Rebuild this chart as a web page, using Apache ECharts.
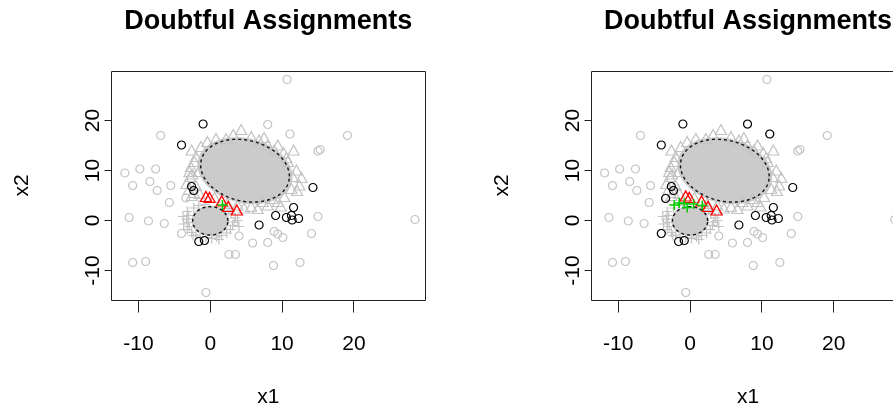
<!DOCTYPE html>
<html><head><meta charset="utf-8">
<script src="https://cdn.jsdelivr.net/npm/echarts@6/dist/echarts.min.js"></script>
<style>html,body{margin:0;padding:0;background:#fff}#c{width:893px;height:408px}</style>
</head><body><div id="c"></div>
<script>
const titleText = 'Doubtful Assignments';
const xName = 'x1';
const yName = 'x2';
const xTicks = [-10, 0, 10, 20];
const yTicks = [-10, 0, 10, 20];

const greyCircles = [
  [10.7,28.2],[8.0,19.2],[-6.9,17.0],[11.1,17.3],[19.1,17.0],[15.0,13.9],[15.3,14.2],
  [-11.9,9.5],[-9.8,10.3],[-7.6,10.3],[-10.8,7.0],[-8.4,7.8],[-7.4,6.0],[-5.5,7.0],
  [-5.7,3.6],[-3.4,4.5],[-11.3,0.6],[-8.6,-0.1],[-6.4,-0.6],[-4.0,-2.6],[4.0,-3.1],
  [5.9,-4.5],[8.0,-4.4],[8.9,-2.2],[9.4,-2.7],[10.1,-3.4],[14.1,-2.6],[15.0,0.8],
  [28.5,0.2],[2.6,-6.8],[3.5,-6.8],[-10.8,-8.4],[-9.0,-8.2],[8.8,-9.0],[12.5,-8.4],[-0.6,-14.4]
];
const greyTriangles = [
  [4.3,18.2],[0.8,16.4],[6.8,16.1],[8.0,15.1],[8.9,14.1],[-2.6,14.1],[11.6,14.1],[10.6,12.6],
  [12.0,10.1],[12.7,8.6],[12.4,7.1],[-2.7,10.8],[-2.9,9.8],[-2.8,8.8],[-3.3,7.4],[10.3,4.8],
  [8.0,3.1],[5.7,2.8],[6.6,2.4],[9.4,3.8],[-1.3,14.8],[-0.4,15.8],[2.2,16.4],[-2.0,12.8],
  [5.7,16.8],[9.4,15.1],[10.8,11.8],[11.5,8.8],[11.3,6.4],[2.4,3.4],[3.8,3.1],[7.3,3.8],
  [-2.2,11.8],[-2.5,9.3],[-3.0,6.2],[-2.0,7.0],[-2.3,5.6],[12.1,6.0],[8.7,4.4],[4.7,2.5],
  [9.8,2.9],[0.6,4.6],[-1.6,9.8],[10.2,13.6],[3.2,17.2],[7.5,16.6],[-1.5,5.4],[-2.6,5.0]
];
const greyPlus = [
  [-3.2,1.8],[-3.0,1.0],[-3.3,0.3],[-3.1,-0.4],[-2.9,-1.2],[-3.2,-1.8],[-2.6,-2.4],[-2.0,-2.9],
  [-1.4,-3.3],[-0.6,-3.4],[0.2,-3.6],[0.9,-3.3],[1.6,-3.0],[2.3,-2.5],[2.8,-1.8],[3.1,-1.0],
  [3.3,-0.3],[3.5,0.5],[2.9,1.4],[2.6,2.0],[1.9,2.5],[-2.3,2.5],[-1.6,3.0],[-0.7,3.2],
  [-3.8,0.8],[-3.7,-0.7],[4.0,-1.2],[3.8,0.0],[-2.4,-3.0],[1.2,-3.8]
];
const blackLeft = [
  [-1.0,19.3],[-4.0,15.1],[-2.6,6.8],[-2.3,6.0],[14.3,6.6],[11.6,2.6],[9.1,1.0],
  [10.6,0.6],[11.3,1.0],[11.4,0.1],[12.3,0.4],[6.8,-0.9],[-1.6,-4.2],[-0.8,-4.0]
];
const blackRight = [
  [-1.0,19.3],[8.0,19.3],[11.1,17.3],[-4.0,15.1],[-2.6,6.8],[-2.3,6.0],[-3.4,4.4],[14.3,6.6],
  [11.6,2.6],[9.1,1.0],[10.6,0.6],[11.3,1.0],[11.4,0.1],[12.3,0.4],[6.8,-0.9],[-4.0,-2.6],
  [-1.6,-4.2],[-0.8,-4.0]
];
const redLeft = [[-0.6,4.8],[-0.1,4.6],[1.6,3.9],[2.5,2.8],[3.7,2.1]];
const redRight = [[-0.6,4.9],[-0.1,4.6],[1.6,3.9],[2.5,2.8],[3.7,2.1]];
const greenLeft = [[1.7,3.1]];
const greenRight = [[-2.2,3.1],[-1.5,3.5],[-0.8,3.4],[-0.4,2.6],[0.5,3.3],[1.7,3.0]];

// cluster ellipses: centre [x, y] and shape [sd x, sd y, covariance]
const ellipseCenters = [[4.84, 9.96], [0.0, -0.07]];
const ellipseShapes = [[6.18, 6.28, -7.0], [2.45, 2.84, 0.0]];

const GREY = '#c3c3c3';
const FILL = '#cbcbcb';
const FONT = "'Liberation Sans', Arial, sans-serif";
const plusPath = 'path://M5,0L5,10M0,5L10,5';

// plot box (data range) and the margin kept for the outside tick marks
const X_MIN = -13.75, X_MAX = 29.9, Y_MIN = -15.9, Y_MAX = 29.9;
const BOX_W = 313.5, BOX_H = 229, TICK_X = 12, TICK_Y = 7;
const X_LO = X_MIN - TICK_Y * (X_MAX - X_MIN) / BOX_W;
const Y_LO = Y_MIN - TICK_X * (Y_MAX - Y_MIN) / BOX_H;

function ellipseSeries(panel, filled) {
  return {
    type: 'custom', xAxisIndex: panel, yAxisIndex: panel, z: filled ? 1 : 4, silent: true,
    data: ellipseCenters.map((c, i) => [c[0], c[1], i]),
    encode: { x: 0, y: 1 },
    renderItem: function (params, api) {
      const i = api.value(2);
      const c = ellipseCenters[i], s = ellipseShapes[i];
      const l11 = s[0], l21 = s[2] / s[0], l22 = Math.sqrt(s[1] * s[1] - l21 * l21);
      const k = filled ? 1.07 : 1.0;
      const ring = [];
      for (let j = 0; j < 96; j++) {
        const t = 2 * Math.PI * j / 96;
        ring.push(api.coord([c[0] + k * l11 * Math.cos(t), c[1] + k * (l21 * Math.cos(t) + l22 * Math.sin(t))]));
      }
      return filled
        ? { type: 'polygon', shape: { points: ring }, style: { fill: FILL } }
        : { type: 'polygon', shape: { points: ring }, style: { fill: 'none', stroke: '#111', lineWidth: 1.4, lineDash: [3, 3] } };
    }
  };
}
// plot box + tick marks, all placed through the axes
function frameSeries(panel) {
  const rows = [[X_MIN, Y_MIN, 0]]
    .concat(xTicks.map(v => [v, Y_MIN, 1]))
    .concat(yTicks.map(v => [X_MIN, v, 2]));
  return {
    type: 'custom', xAxisIndex: panel, yAxisIndex: panel, z: 8, silent: true, clip: false,
    data: rows, encode: { x: 0, y: 1 },
    renderItem: function (params, api) {
      const kind = api.value(2);
      const p = api.coord([api.value(0), api.value(1)]);
      const st = { stroke: '#222', lineWidth: 1, fill: 'none' };
      if (kind === 0) {
        const q = api.coord([X_MAX, Y_MAX]);
        const x0 = Math.floor(p[0]) + 0.5, y1 = Math.floor(p[1]) + 0.5;
        const x1 = Math.floor(q[0]) + 0.5, y0 = Math.floor(q[1]) + 0.5;
        return { type: 'rect', shape: { x: x0, y: y0, width: x1 - x0, height: y1 - y0 }, style: st };
      }
      if (kind === 1) {
        const x = Math.floor(p[0]) + 0.5, y = Math.floor(p[1]) + 0.5;
        return { type: 'line', shape: { x1: x, y1: y, x2: x, y2: y + TICK_X }, style: st };
      }
      const x = Math.floor(p[0]) + 0.5, y = Math.floor(p[1]) + 0.5;
      return { type: 'line', shape: { x1: x, y1: y, x2: x - TICK_Y, y2: y }, style: st };
    }
  };
}
function pts(panel, data, symbol, size, color, z, bw) {
  return {
    type: 'scatter', xAxisIndex: panel, yAxisIndex: panel, data: data, symbol: symbol, symbolSize: size,
    z: z, silent: true, animation: false,
    itemStyle: { color: 'rgba(0,0,0,0)', borderColor: color, borderWidth: bw || 1.2, opacity: 1 }
  };
}

const lefts = [111.5, 591.3];
const series = [];
const xAxes = [], yAxes = [], grids = [], titles = [], texts = [];
[0, 1].forEach(p => {
  const cx = lefts[p] + BOX_W / 2;
  grids.push({ left: lefts[p] - TICK_Y, top: 71, width: BOX_W + TICK_Y, height: BOX_H + TICK_X, show: false, outerBoundsMode: 'none' });
  xAxes.push({
    type: 'value', gridIndex: p, min: X_LO, max: X_MAX, splitLine: { show: false },
    axisLine: { show: false, onZero: false }, axisTick: { show: false },
    axisLabel: { customValues: xTicks, fontFamily: FONT, fontSize: 21, color: '#000', margin: 22 }
  });
  yAxes.push({
    type: 'value', gridIndex: p, min: Y_LO, max: Y_MAX, splitLine: { show: false },
    axisLine: { show: false, onZero: false }, axisTick: { show: false },
    axisLabel: { customValues: yTicks, rotate: 90, fontFamily: FONT, fontSize: 21, color: '#000', margin: 1 }
  });
  titles.push({ text: titleText, left: cx, top: 8, textAlign: 'center', padding: 0,
    textStyle: { fontFamily: FONT, fontSize: 27, fontWeight: 'bold', color: '#000' } });
  texts.push({ type: 'text', x: cx, y: 397, silent: true,
    style: { text: xName, fontFamily: FONT, fontSize: 21, fill: '#000', align: 'center', verticalAlign: 'middle' } });
  texts.push({ type: 'text', x: lefts[p] - 89.5, y: 185.5, rotation: Math.PI / 2, silent: true,
    style: { text: yName, fontFamily: FONT, fontSize: 21, fill: '#000', align: 'center', verticalAlign: 'middle' } });
  series.push(ellipseSeries(p, true));
  series.push(pts(p, greyCircles, 'circle', 8, GREY, 2));
  series.push(pts(p, greyTriangles, 'triangle', [11, 10], GREY, 2));
  series.push(pts(p, greyPlus, plusPath, 10, GREY, 2));
  series.push(ellipseSeries(p, false));
  series.push(pts(p, p ? blackRight : blackLeft, 'circle', 8, '#000', 5));
  series.push(pts(p, p ? redRight : redLeft, 'triangle', [11, 10], '#ff0000', 6, 1.3));
  series.push(pts(p, p ? greenRight : greenLeft, plusPath, 10, '#00cc00', 7, 1.5));
  series.push(frameSeries(p));
});

const chart = echarts.init(document.getElementById('c'), null, { renderer: 'canvas' });
try {
  chart.setOption({
    animation: false, backgroundColor: '#fff',
    title: titles, grid: grids, xAxis: xAxes, yAxis: yAxes, series: series,
    graphic: { elements: texts }
  });
} catch (e) { console.error(e); }
</script></body></html>
